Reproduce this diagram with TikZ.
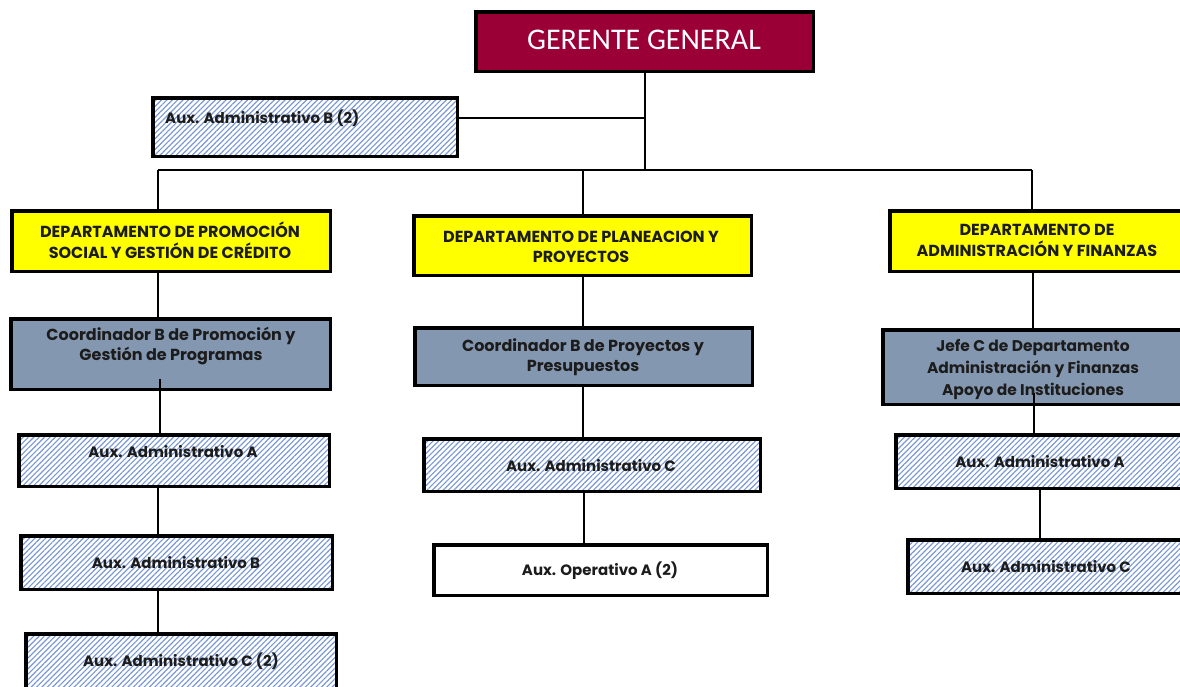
\documentclass[tikz,border=0pt]{standalone}
\usepackage{fontspec}
\setmainfont{Poppins}
\newfontfamily\calfont{Carlito}
\usetikzlibrary{patterns.meta}
\definecolor{gerred}{HTML}{9A0036}
\definecolor{coordgray}{HTML}{8497B0}
\definecolor{deptyel}{HTML}{FFFF00}
\definecolor{hatchblue}{HTML}{7A98D4}
\definecolor{txtdark}{HTML}{1C1C1C}
\tikzset{
  box/.style={draw=black, line width=3.5pt, rectangle, inner sep=0pt},
  gerbox/.style={box, fill=gerred},
  deptbox/.style={box, fill=deptyel},
  coordbox/.style={box, fill=coordgray},
  hatchbox/.style={box, preaction={fill=white}, pattern={Lines[angle=45,distance=3.8pt,line width=1.15pt]}, pattern color=hatchblue},
  plainbox/.style={box, fill=white},
  lbl/.style={font=\fontsize{15}{20}\selectfont\bfseries, text=txtdark, align=center, inner sep=0pt},
  biglbl/.style={lbl, font=\fontsize{16}{20.5}\selectfont\bfseries},
  gerlbl/.style={font=\calfont\fontsize{30}{32}\selectfont, text=white, inner sep=0pt},
  conn/.style={draw=black, line width=2pt}
}
\begin{document}
\begin{tikzpicture}[x=1pt,y=-1pt]
\fill[white] (0,0) rectangle (1180,686);
\useasboundingbox (0,0) rectangle (1180,686);
% boxes
\node[gerbox, minimum width=337.5pt, minimum height=59.5pt] (ger) at (644.5,41.5) {};
\node[hatchbox, minimum width=304.5pt, minimum height=58.5pt] (ab2) at (305,127) {};
\node[deptbox, minimum width=318.5pt, minimum height=60.5pt] (d1) at (171,241) {};
\node[deptbox, minimum width=337.5pt, minimum height=59.5pt] (d2) at (582.5,245.5) {};
\node[deptbox, minimum width=298.5pt, minimum height=60.5pt] (d3) at (1039,241) {};
\node[coordbox, minimum width=319.5pt, minimum height=70.5pt] (c1) at (170.5,354) {};
\node[coordbox, minimum width=337.5pt, minimum height=57.5pt] (c2) at (583.5,356.5) {};
\node[coordbox, minimum width=305.5pt, minimum height=74.5pt] (c3) at (1035.5,367) {};
\node[hatchbox, minimum width=310.5pt, minimum height=51.5pt] (la) at (174,460.5) {};
\node[hatchbox, minimum width=311.5pt, minimum height=53.5pt] (lb) at (176.5,562.5) {};
\node[hatchbox, minimum width=310.5pt, minimum height=64.5pt] (lc) at (181,666) {};
\node[hatchbox, minimum width=336.5pt, minimum height=52.5pt] (mc) at (592,465) {};
\node[plainbox, minimum width=333.5pt, minimum height=50.5pt] (mo) at (600.5,570) {};
\node[hatchbox, minimum width=292.5pt, minimum height=53.5pt] (ra) at (1042,461.5) {};
\node[hatchbox, minimum width=280.5pt, minimum height=53.5pt] (rc) at (1048,566.5) {};
% labels
\node[gerlbl] (gert) at (644,40) {GERENTE GENERAL};
\node[lbl, anchor=west] (ab2t) at (165,118) {Aux. Administrativo B (2)};
\node[biglbl] (d1t) at (170,240) {DEPARTAMENTO DE PROMOCIÓN\\SOCIAL Y GESTIÓN DE CRÉDITO};
\node[biglbl] (d2t) at (581,247) {DEPARTAMENTO DE PLANEACION Y\\PROYECTOS};
\node[biglbl] (d3t) at (1037,240.5) {DEPARTAMENTO DE\\ADMINISTRACIÓN Y FINANZAS};
\node[biglbl] (c1t) at (171,346) {Coordinador B de Promoción y\\Gestión de Programas};
\node[biglbl] (c2t) at (583,357) {Coordinador B de Proyectos y\\Presupuestos};
\node[lbl, font=\fontsize{15.5}{22}\selectfont\bfseries] (c3t) at (1033,369) {Jefe C de Departamento\\Administración y Finanzas\\Apoyo de Instituciones};
\node[lbl] (lat) at (173,452) {Aux. Administrativo A};
\node[lbl] (lbt) at (176,563) {Aux. Administrativo B};
\node[lbl] (lct) at (181,661) {Aux. Administrativo C (2)};
\node[lbl] (mct) at (591,466) {Aux. Administrativo C};
\node[lbl] (mot) at (600,571) {Aux. Operativo A (2)};
\node[lbl] (rat) at (1040,462) {Aux. Administrativo A};
\node[lbl] (rct) at (1046,567) {Aux. Administrativo C};
% junction coordinates
\coordinate (hub) at (644.5,170);
\coordinate (busL) at (157.5,170);
\coordinate (busM) at (582.5,170);
\coordinate (busR) at (1032,170);
\coordinate (ab2j) at (644.5,118);
\coordinate (k1) at (160,379);
\coordinate (k2) at (157.5,588);
\coordinate (k3) at (1034,393);
% connectors
\draw[conn] (ger.south) -- (hub);
\draw[conn] (ab2j) -- (ab2j -| ab2.east);
\draw[conn] (busL) -- (busR);
\draw[conn] (busL) -- (busL |- d1.north);
\draw[conn] (busM) -- (busM |- d2.north);
\draw[conn] (busR) -- (busR |- d3.north);
\draw[conn] (d1.south -| busL) -- (c1.north -| busL);
\draw[conn] (k1) -- (k1 |- la.north);
\draw[conn] (la.south -| busL) -- (lb.north -| busL);
\draw[conn] (k2) -- (k2 |- lc.north);
\draw[conn] (d2.south -| busM) -- (c2.north -| busM);
\draw[conn] (c2.south -| 583,0) -- (mc.north -| 583,0);
\draw[conn] (mc.south -| 583.5,0) -- (mo.north -| 583.5,0);
\draw[conn] (d3.south -| 1033,0) -- (c3.north -| 1033,0);
\draw[conn] (k3) -- (k3 |- ra.north);
\draw[conn] (ra.south -| 1040,0) -- (rc.north -| 1040,0);
\end{tikzpicture}
\end{document}
